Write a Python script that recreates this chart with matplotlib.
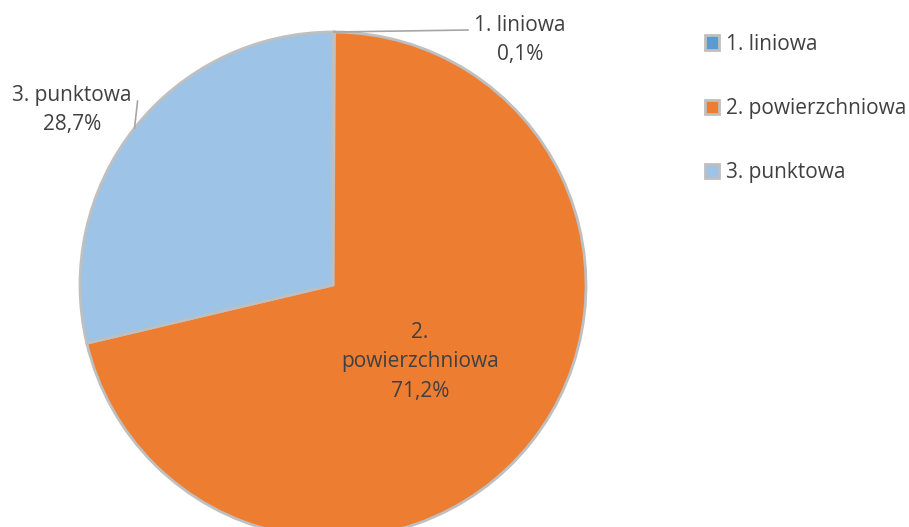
import numpy as np
import matplotlib.pyplot as plt
from matplotlib.patches import Patch

categories = ["1. liniowa", "2. powierzchniowa", "3. punktowa"]
shares = [0.1, 71.2, 28.7]
colors = ["#5B9BD5", "#ED7D31", "#9DC3E6"]
label_text = ["1. liniowa\n0,1%", "2.\npowierzchniowa\n71,2%", "3. punktowa\n28,7%"]

plt.rcParams['font.family'] = ['Open Sans', 'DejaVu Sans']
txt_color = "#404040"
fs = 15

fig = plt.figure(figsize=(9.09, 5.27), dpi=100)
ax = fig.add_axes([0, 0, 1, 1])

cx, cy, r = 333, 242, 253
wedges, _ = ax.pie(shares, colors=colors, startangle=90, counterclock=False,
                   center=(cx, cy), radius=r, frame=True,
                   wedgeprops=dict(edgecolor="#BFBFBF", linewidth=2))
ax.set_xlim(0, 909)
ax.set_ylim(0, 527)
ax.set_aspect('equal')
ax.axis('off')

# labels
mid = [np.deg2rad((w.theta1 + w.theta2) / 2) for w in wedges]

# 1. liniowa - outside with leader line to the right
a = mid[0]
ex, ey = cx + r * np.cos(a), cy + r * np.sin(a)
ax.plot([ex, 468], [ey, ey + 2], color="#A6A6A6", lw=1.2)
ax.text(520, 487, label_text[0], ha='center', va='center', fontsize=fs,
        color=txt_color, linespacing=1.5)

# 2. powierzchniowa - inside
ax.text(420, 165, label_text[1], ha='center', va='center', fontsize=fs,
        color=txt_color, linespacing=1.5)

# 3. punktowa - outside, upper left
a = mid[2]
ex, ey = cx + r * np.cos(a), cy + r * np.sin(a)
ax.plot([ex, ex + 3], [ey, ey + 27], color="#A6A6A6", lw=1.2)
ax.text(72, 417, label_text[2], ha='center', va='center', fontsize=fs,
        color=txt_color, linespacing=1.5)

handles = [Patch(facecolor=c, edgecolor="#BFBFBF", linewidth=2) for c in colors]
leg = ax.legend(handles, categories, loc='upper left',
                bbox_to_anchor=(686 / 909, 1 - 15 / 527), frameon=False,
                fontsize=fs, handlelength=0.7, handleheight=0.7,
                handletextpad=0.3, labelspacing=2.08)
for t in leg.get_texts():
    t.set_color(txt_color)

fig.savefig("out.png", dpi=100)
